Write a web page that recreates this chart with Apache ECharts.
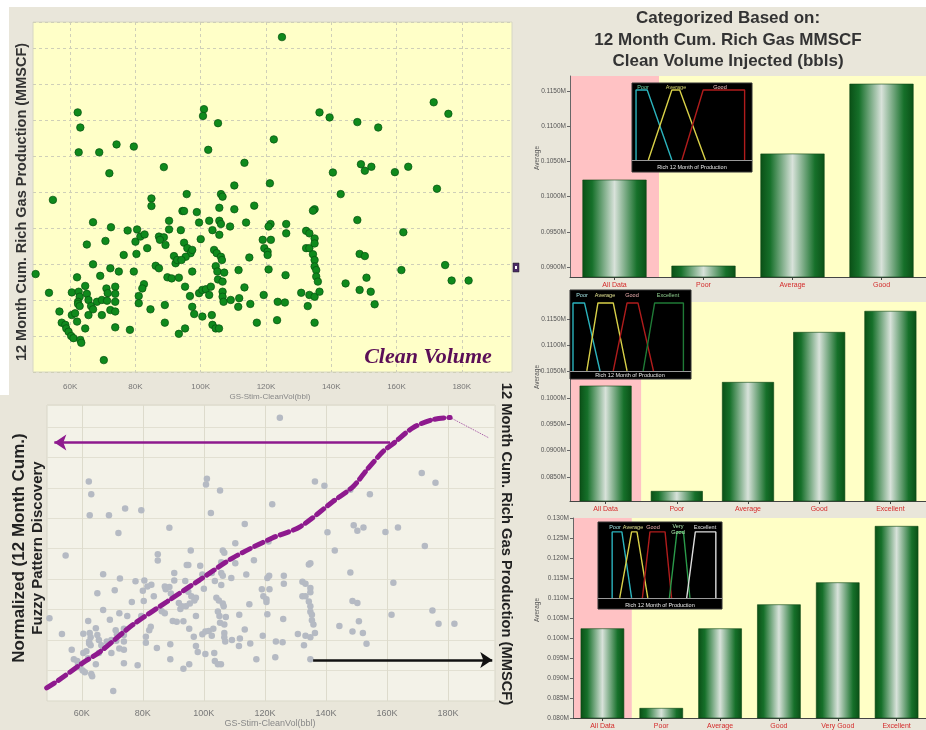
<!DOCTYPE html>
<html><head><meta charset="utf-8">
<script src="https://cdn.jsdelivr.net/npm/echarts@6/dist/echarts.min.js"></script>
<style>html,body{margin:0;padding:0;background:#fff}#c{width:926px;height:730px}</style>
</head><body><div id="c"></div>
<script>
// Scatter: clean volume (K bbl) vs 12-month cum. rich gas (arbitrary, unlabeled scale)
const cleanVolK = [
124.9,62.3,63.1,62.6,68.9,72.0,74.2,79.5,54.7,101.0,
100.7,105.3,102.3,88.7,113.4,122.4,121.2,136.4,139.5,148.0,
154.4,171.4,175.9,140.5,149.1,150.3,152.3,159.5,163.6,142.9,
172.4,95.7,106.2,106.7,110.3,84.9,84.9,94.4,94.9,98.8,
105.7,110.3,116.4,134.9,134.4,67.0,72.5,77.6,80.5,80.0,
81.5,82.8,83.6,87.2,88.7,90.3,90.3,93.9,99.5,102.6,
105.7,106.2,103.6,105.7,109.0,113.9,121.4,120.8,126.2,126.2,
65.1,70.8,76.4,80.3,87.5,89.2,94.9,95.9,96.9,95.4,
91.8,92.3,92.8,94.1,97.4,100.0,104.1,104.9,106.2,106.5,
114.9,119.0,119.5,120.5,121.5,120.5,132.3,132.3,133.3,133.3,
134.9,134.9,134.4,148.0,162.1,49.4,67.0,69.2,72.3,74.9,
79.5,86.2,87.2,89.8,91.1,93.3,97.4,104.6,105.1,107.2,
105.3,106.7,111.6,120.8,126.0,134.9,134.9,135.4,135.4,148.7,
150.3,161.5,174.9,176.9,182.1,53.5,60.5,62.6,62.9,62.4,
62.4,62.9,65.1,65.6,66.4,67.0,68.2,69.7,71.1,71.5,
73.8,73.8,73.8,71.3,72.3,69.7,73.8,62.1,64.6,82.6,
82.1,81.0,81.0,84.6,89.0,95.2,96.7,97.4,98.0,100.5,
99.5,100.5,101.6,103.1,102.6,106.7,106.7,107.0,109.2,111.5,
111.8,113.4,115.2,119.3,123.6,125.8,130.8,132.8,133.3,134.9,
136.4,135.9,144.4,148.7,150.8,152.1,153.3,56.7,57.4,58.5,
58.8,59.5,60.3,61.0,60.5,61.5,62.1,63.1,63.4,64.6,
65.6,73.8,78.3,89.0,93.3,95.2,103.4,103.6,104.6,105.6,
117.2,123.4,134.9,70.3];
const richGas = [
93.0,72.1,67.9,61.0,61.0,55.2,63.2,62.6,47.8,73.0,
71.1,69.1,61.7,56.9,58.1,64.6,52.4,72.1,70.7,69.4,
67.9,74.9,71.7,55.4,57.7,55.9,57.0,55.5,57.0,49.4,
50.9,49.4,49.4,48.7,51.8,48.2,46.1,44.7,44.7,44.4,
45.6,45.2,46.2,45.2,44.8,41.6,40.2,39.3,39.6,36.2,
37.6,38.2,34.4,37.6,37.4,42.0,39.6,39.4,41.5,42.0,
42.0,41.1,39.4,38.1,40.4,41.5,41.1,40.4,41.1,38.5,
35.4,36.4,32.5,32.8,36.7,35.3,35.9,34.4,33.0,32.0,
32.2,30.2,31.1,31.1,33.9,36.9,33.9,33.0,32.0,31.1,
31.8,36.7,34.4,33.4,36.7,32.5,39.2,34.4,34.4,38.5,
37.1,35.7,32.7,42.2,38.8,27.2,29.9,26.7,28.8,27.9,
27.9,29.5,28.8,26.3,26.0,26.2,27.9,29.4,27.9,27.6,
25.7,25.1,28.3,28.5,26.9,31.1,29.3,28.3,26.5,32.8,
32.2,28.3,29.7,25.4,25.4,22.0,22.1,22.3,20.9,19.5,
18.9,18.3,21.7,20.0,18.3,17.4,19.5,20.0,23.2,21.9,
23.7,21.7,19.5,19.8,17.2,15.8,16.8,26.3,23.9,24.4,
23.2,21.1,19.1,17.4,18.6,23.7,21.1,18.1,16.1,15.4,
21.9,22.8,23.0,23.7,21.4,22.3,20.9,19.5,20.0,18.1,
20.5,23.5,18.9,21.4,19.5,19.3,22.0,18.3,21.4,20.9,
22.3,25.1,24.6,22.8,26.2,22.3,18.8,16.8,13.7,13.1,
12.1,11.2,10.0,9.4,15.8,16.3,14.0,8.9,8.1,12.1,
15.8,12.4,11.7,13.7,10.6,12.1,15.8,13.1,12.1,12.1,
13.7,14.4,13.7,3.3];

// Fuzzy pattern curve
const curveX = [48.5,52.1,60.3,65.9,76.7,87.9,98.7,109.5,122.6,131.5,142.3,148.9,153.5,158.7,162.0,168.6,175.1,180.7];
const curveY = [4.3,6.6,12.5,16.1,25.0,32.6,39.8,47.0,53.6,57.2,65.5,70.4,76.0,81.9,84.5,89.8,92.4,93.1];
const tailX = [180.7,193.2];
const tailY = [93.1,86.5];
const xTicks = [60,80,100,120,140,160,180];

// Bar charts
const cats1 = ['All Data','Poor','Average','Good'];
const vals1 = [0.1024,0.0902,0.1061,0.1160];
const ticks1 = [0.090,0.095,0.100,0.105,0.110,0.115];
const cats2 = ['All Data','Poor','Average','Good','Excellent'];
const vals2 = [0.1023,0.0823,0.1030,0.1125,0.1165];
const ticks2 = [0.085,0.090,0.095,0.100,0.105,0.110,0.115];
const cats3 = ['All Data','Poor','Average','Good','Very Good','Excellent'];
const vals3 = [0.1024,0.0825,0.1024,0.1084,0.1139,0.1280];

// Membership functions (insets)
const inset1 = {Poor:[[0,0],[0,1],[10,1],[32,0]], Average:[[11,0],[32,1],[39,1],[62,0]], Good:[[41,0],[60,1],[97,1],[97,0]]};
const inset2 = {Poor:[[0,0],[0,1],[10,1],[23.5,0]], Average:[[12,0],[21.7,1],[35,1],[47,0]], Good:[[35,0],[47,1],[56.5,1],[70,0]], Excellent:[[61,0],[71,1],[96,1],[96,0]]};
const inset3 = {Poor:[[2,0],[2,1],[11,1],[20,0]], Average:[[9,0],[20,1],[25,1],[35,0]], Good:[[30,0],[37,1],[51,1],[57,0]], 'Very Good':[[55,0],[62,1],[68,1],[74,0]], Excellent:[[71,0],[79,1],[98,1],[98,0]]};
const mfColors = {Poor:'#2bb3bd', Average:'#d8d048', Good:'#b01c1c', 'Very Good':'#2a9a4a', Excellent:'#1f7a36'};
const mfColors3 = {Poor:'#2bb3bd', Average:'#d8d048', Good:'#b01c1c', 'Very Good':'#2a9a4a', Excellent:'#dddddd'};

const chart = echarts.init(document.getElementById('c'));
const pts = cleanVolK.map((x,i)=>[x,richGas[i]]);
const PINK='#ffc2c4', YEL='#ffffc6';
const barGrad = new echarts.graphic.LinearGradient(0,0,1,0,[
  {offset:0,color:'#0a5016'},{offset:0.15,color:'#16702a'},{offset:0.5,color:'#d8e2da'},
  {offset:0.85,color:'#16702a'},{offset:1,color:'#0a5016'}]);

function barX(gi, cats){
  const cols = cats.map((c,i)=> i===0?PINK:YEL);
  return {gridIndex:gi,type:'category',data:cats,
    axisLine:{lineStyle:{color:'#444'}},
    axisTick:{show:true,alignWithLabel:true,length:3,lineStyle:{color:'#444'}},
    axisLabel:{color:'#d42a2a',fontSize:7,margin:5,fontFamily:'Liberation Sans'},
    splitArea:{show:true,areaStyle:{color:cols}}, splitLine:{show:false}};
}
function barY(gi,min,max,ticks,dec){
  return {gridIndex:gi,type:'value',min:min,max:max,
    axisLine:{show:true,lineStyle:{color:'#666'}},
    axisTick:{show:true,customValues:ticks,length:3,lineStyle:{color:'#666'}},
    axisLabel:{customValues:ticks,formatter:v=>v.toFixed(dec)+'M',fontSize:6.5,color:'#555',margin:4,fontFamily:'Liberation Sans'},
    splitLine:{show:false}};
}
function insetAxes(gi,xmin,xmax,ymin,ymax){
  return [{gridIndex:gi,type:'value',min:xmin,max:xmax,z:25,axisLine:{onZero:true,lineStyle:{color:'#9a9a9a',width:1}},axisTick:{show:false},axisLabel:{show:false},splitLine:{show:false}},
          {gridIndex:gi,type:'value',min:ymin,max:ymax,show:false,splitLine:{show:false}}];
}
const ia1 = insetAxes(5,-3.6,103.6,-0.171,1.1);
const ia2 = insetAxes(6,-2.6,102.6,-0.118,1.19);
const ia3 = insetAxes(7,-11.1,103.7,-0.167,1.15);

const series = [];
series.push({type:'scatter',xAxisIndex:0,yAxisIndex:0,data:pts,symbolSize:7.5,
  itemStyle:{color:'#0f8a1c',borderColor:'#075210',borderWidth:0.7,opacity:1}});
series.push({type:'scatter',xAxisIndex:1,yAxisIndex:1,data:pts,symbolSize:6.5,
  itemStyle:{color:'#b5bac3',opacity:1}});
series.push({type:'line',xAxisIndex:1,yAxisIndex:1,data:curveX.map((x,i)=>[x,curveY[i]]),
  symbol:'none',smooth:0.3,lineStyle:{color:'#8e1a8e',width:5,type:[9,5],cap:'round'},z:5,
  markLine:{silent:true,symbol:['none','arrow'],symbolSize:12,label:{show:false},
    lineStyle:{color:'#8e1a8e',width:2.5,type:'solid'},data:[[{coord:[161,84.9]},{coord:[51,84.9]}]]}});
series.push({type:'line',xAxisIndex:1,yAxisIndex:1,data:tailX.map((x,i)=>[x,tailY[i]]),
  symbol:'none',lineStyle:{color:'#a04aa0',width:1,type:'dotted'},
  markLine:{silent:true,symbol:['none','arrow'],symbolSize:12,label:{show:false},
    lineStyle:{color:'#111',width:2.5,type:'solid'},data:[[{coord:[135.8,13.5]},{coord:[194.5,13.5]}]]}});
[[vals1,2,'72%'],[vals2,3,'73%'],[vals3,4,'74%']].forEach(([v,gi,bw])=>{
  series.push({type:'bar',xAxisIndex:gi,yAxisIndex:gi,data:v,barWidth:bw,
    itemStyle:{color:barGrad,borderColor:'#0a4512',borderWidth:0.6}});
});
[[inset1,5,mfColors],[inset2,6,mfColors],[inset3,7,mfColors3]].forEach(([set,gi,cols])=>{
  Object.keys(set).forEach(k=>{
    series.push({type:'line',xAxisIndex:gi,yAxisIndex:gi,data:set[k],symbol:'none',
      lineStyle:{color:cols[k],width:1.4},z:30});
  });
});

function T(x,y,text,font,fill,extra){
  return Object.assign({type:'text',x:x,y:y,z:50,style:{text:text,font:font,fill:fill,align:'center',verticalAlign:'middle'}},extra||{});
}
const lblF = '5.5px Liberation Sans';
const graphic = [
  {type:'rect',shape:{x:0,y:0,width:926,height:7},style:{fill:'#fff'},z:-1},
  {type:'rect',shape:{x:0,y:0,width:9,height:395},style:{fill:'#fff'},z:-1},
  T(728,18,'Categorized Based on:','bold 17px Liberation Sans','#333'),
  T(728,40,'12 Month Cum. Rich Gas MMSCF','bold 17px Liberation Sans','#333'),
  T(728,61,'Clean Volume Injected (bbls)','bold 17px Liberation Sans','#333'),
  T(22,202,'12 Month Cum. Rich Gas Production (MMSCF)','bold 14.5px Liberation Sans','#333',{rotation:Math.PI/2}),
  T(270,397,'GS-Stim-CleanVol(bbl)','8px Liberation Sans','#888'),
  T(428,357,'Clean Volume','italic bold 22px Liberation Serif','#5b0f57'),
  {type:'rect',shape:{x:513,y:263,width:6,height:9},style:{fill:'#4a2a66',stroke:'#222',lineWidth:0.5},z:50},
  {type:'rect',shape:{x:515,y:266,width:2,height:3},style:{fill:'#fff'},z:51},
  T(19,548,'Normalized (12 Month Cum.)','bold 17px Liberation Sans','#222',{rotation:Math.PI/2}),
  T(38,548,'Fuzzy Pattern Discovery','bold 15px Liberation Sans','#222',{rotation:Math.PI/2}),
  T(506,544,'12 Month Cum. Rich Gas Production (MMSCF)','bold 14.7px Liberation Sans','#222',{rotation:-Math.PI/2}),
  T(270,724,'GS-Stim-CleanVol(bbl)','9px Liberation Sans','#888'),
  T(537,158,'Average','6.5px Liberation Sans','#555',{rotation:Math.PI/2}),
  T(537,377,'Average','6.5px Liberation Sans','#555',{rotation:Math.PI/2}),
  T(537,610,'Average','6.5px Liberation Sans','#555',{rotation:Math.PI/2}),
  // inset labels
  T(643,87,'Poor',lblF,'#6fd0a0'), T(676,87,'Average',lblF,'#d8d870'), T(720,87,'Good',lblF,'#f0c0c0'),
  T(692,167,'Rich 12 Month of Production',lblF,'#e8e8e8'),
  T(582,295,'Poor',lblF,'#a0e0e0'), T(605,295,'Average',lblF,'#e0e090'), T(632,295,'Good',lblF,'#f0b0b0'), T(668,295,'Excellent',lblF,'#90d090'),
  T(630,375,'Rich 12 Month of Production',lblF,'#e8e8e8'),
  T(615,527,'Poor',lblF,'#a0e0e0'), T(633,527,'Average',lblF,'#e0e090'), T(653,527,'Good',lblF,'#f0b0b0'),
  T(678,526,'Very',lblF,'#b0e8b0'), T(678,532,'Good',lblF,'#b0e8b0'), T(705,527,'Excellent',lblF,'#e0e0e0'),
  T(660,605,'Rich 12 Month of Production',lblF,'#e8e8e8')
];

chart.setOption({
  animation:false,
  backgroundColor:'#e9e6da',
  grid:[
    {left:33,top:22,width:479,height:350,show:true,backgroundColor:'#ffffc8',borderColor:'#d6d6c4',borderWidth:1},
    {left:47,top:405,width:448,height:296,show:true,backgroundColor:'#f3f2e8',borderColor:'#d8d6c8',borderWidth:1},
    {left:570,top:76,width:359,height:201},
    {left:570,top:302,width:357,height:199},
    {left:573,top:518,width:356,height:200},
    {left:632,top:83,width:120,height:89,show:true,backgroundColor:'#000',borderColor:'#333',borderWidth:1,z:10},
    {left:570,top:290,width:121,height:89,show:true,backgroundColor:'#000',borderColor:'#333',borderWidth:1,z:10},
    {left:598,top:522,width:124,height:87,show:true,backgroundColor:'#000',borderColor:'#333',borderWidth:1,z:10}
  ],
  xAxis:[
    {gridIndex:0,type:'value',min:48.6,max:195.4,axisLine:{show:false},
      axisTick:{show:false,customValues:xTicks},
      axisLabel:{customValues:xTicks,formatter:v=>v+'K',fontSize:8,color:'#777',margin:11,fontFamily:'Liberation Sans'},
      splitLine:{show:true,lineStyle:{color:'#cfcfb8',type:[3,3]}}},
    {gridIndex:1,type:'value',min:48.6,max:195.4,axisLine:{show:false},
      axisTick:{show:false,customValues:xTicks},
      axisLabel:{customValues:xTicks,formatter:v=>v+'K',fontSize:9,color:'#777',margin:8,fontFamily:'Liberation Sans'},
      splitLine:{show:true,lineStyle:{color:'#dddbcc'}}},
    barX(2,cats1), barX(3,cats2), barX(4,cats3),
    ia1[0], ia2[0], ia3[0]
  ],
  yAxis:[
    {gridIndex:0,type:'value',min:0,max:97.2,interval:10,axisLine:{show:false},axisTick:{show:false},axisLabel:{show:false},
      splitLine:{show:true,lineStyle:{color:'#cfcfb8',type:[3,3]}}},
    {gridIndex:1,type:'value',min:0,max:97.2,interval:10,axisLine:{show:false},axisTick:{show:false},axisLabel:{show:false},
      splitLine:{show:true,lineStyle:{color:'#e2e0d2'}}},
    barY(2,0.0886,0.1171,ticks1,4), barY(3,0.0804,0.1182,ticks2,4),
    {gridIndex:4,type:'value',min:0.080,max:0.130,interval:0.005,
      axisLine:{show:true,lineStyle:{color:'#666'}},axisTick:{show:true,length:3,lineStyle:{color:'#666'}},
      axisLabel:{formatter:v=>v.toFixed(3)+'M',fontSize:6.5,color:'#555',margin:4,fontFamily:'Liberation Sans'},splitLine:{show:false}},
    ia1[1], ia2[1], ia3[1]
  ],
  series:series,
  graphic:graphic
});
</script></body></html>
